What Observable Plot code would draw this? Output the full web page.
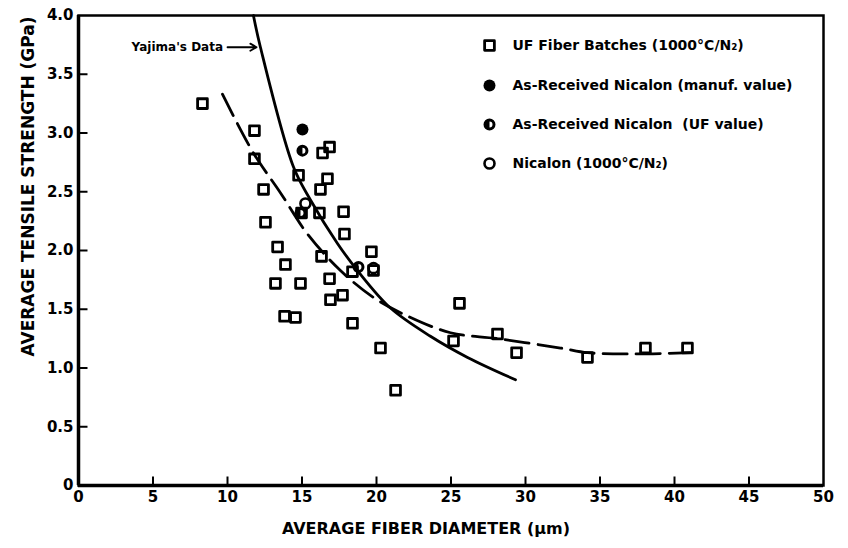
<!DOCTYPE html>
<html>
<head>
<meta charset="utf-8">
<script src="https://cdn.jsdelivr.net/npm/d3@7"></script>
<script src="https://cdn.jsdelivr.net/npm/@observablehq/plot@0.6"></script>
<style>
  html, body { margin: 0; padding: 0; background: #fff; }
  #chart { width: 848px; height: 548px; }
</style>
</head>
<body>
<div id="chart"></div>
<script>
// ---- Data ----
// UF Fiber Batches (1000°C/N2): diameter (µm) / strength (GPa)
const batchDiameter = [8.32, 11.81, 11.81, 12.42, 12.55, 14.77, 16.38, 16.85, 16.24, 16.71,
  14.97, 16.17, 17.79, 17.85, 13.36, 16.31, 13.89, 19.66, 18.39, 19.80,
  13.22, 14.90, 16.85, 16.91, 17.72, 13.83, 14.56, 18.39, 20.27, 21.28,
  25.57, 25.17, 28.12, 29.40, 34.16, 38.05, 40.87];
const batchStrength = [3.25, 3.02, 2.78, 2.52, 2.24, 2.64, 2.83, 2.88, 2.52, 2.61,
  2.32, 2.32, 2.33, 2.14, 2.03, 1.95, 1.88, 1.99, 1.82, 1.83,
  1.72, 1.72, 1.76, 1.58, 1.62, 1.44, 1.43, 1.38, 1.17, 0.81,
  1.55, 1.23, 1.29, 1.13, 1.09, 1.17, 1.17];

// As-Received Nicalon (manuf. value)
const manufDiameter = [15.03];
const manufStrength = [3.03];

// As-Received Nicalon (UF value)
const ufDiameter = [15.03, 14.90, 18.79];
const ufStrength = [2.85, 2.32, 1.86];

// Nicalon (1000°C/N2)
const nicDiameter = [15.23, 19.80];
const nicStrength = [2.40, 1.85];

// Yajima's data curve (solid)
const yajimaDiameter = [11.74, 12.21, 14.43, 15.57, 17.38, 18.72, 20.94, 23.62, 26.11, 29.33];
const yajimaStrength = [4.00, 3.73, 2.71, 2.43, 2.06, 1.83, 1.51, 1.27, 1.09, 0.90];

// Fit curve (dashed)
const fitDiameter = [9.66, 11.74, 13.56, 15.37, 17.58, 19.80, 21.95, 24.97, 28.12, 32.35, 34.16, 37.25, 41.07];
const fitStrength = [3.33, 2.83, 2.49, 2.14, 1.83, 1.60, 1.45, 1.30, 1.25, 1.17, 1.13, 1.12, 1.13];

// Axis ticks
const xTicks = [0, 5, 10, 15, 20, 25, 30, 35, 40, 45, 50];
const yTicks = [0, 0.5, 1.0, 1.5, 2.0, 2.5, 3.0, 3.5, 4.0];
const xInnerTicks = [5, 10, 15, 20, 25, 30, 35, 40, 45];
const yInnerTicks = [0.5, 1.0, 1.5, 2.0, 2.5, 3.0, 3.5];

// Titles, legend and annotation text
const xTitle = "AVERAGE FIBER DIAMETER (µm)";
const yTitle = "AVERAGE TENSILE STRENGTH (GPa)";
const legendLabels = [
  "UF Fiber Batches (1000°C/N₂)",
  "As-Received Nicalon (manuf. value)",
  "As-Received Nicalon  (UF value)",
  "Nicalon (1000°C/N₂)"
];
const annotationLabel = ["Yajima's Data"];
const annotationX = [9.7];
const annotationY = [3.73];
const annotationArrowX1 = [10.0];
const annotationArrowX2 = [11.95];

// ---- Build tables ----
const zip = (xs, ys) => xs.map((x, i) => ({x, y: ys[i]}));
const batches = zip(batchDiameter, batchStrength);
const manuf = zip(manufDiameter, manufStrength);
const ufVals = zip(ufDiameter, ufStrength);
const nicalon = zip(nicDiameter, nicStrength);
const yajima = zip(yajimaDiameter, yajimaStrength);
const fit = zip(fitDiameter, fitStrength);
const annotations = annotationLabel.map((t, i) => ({
  text: t, x: annotationX[i], y: annotationY[i], x1: annotationArrowX1[i], x2: annotationArrowX2[i]
}));

// ---- Custom symbols ----
const halfFilled = {
  draw(ctx, size) {
    const r = Math.sqrt(size / Math.PI);
    const ri = r * 0.5;
    ctx.moveTo(r, 0);
    ctx.arc(0, 0, r, 0, 2 * Math.PI);
    ctx.moveTo(ri, 0);
    ctx.arc(0, 0, ri, 0, -2 * Math.PI, true);
    ctx.moveTo(0, -ri);
    ctx.arc(0, 0, ri, -Math.PI / 2, Math.PI / 2, true);
    ctx.closePath();
  }
};
const tickUp = { draw(ctx) { ctx.moveTo(0, 0); ctx.lineTo(0, -9); } };
const tickRight = { draw(ctx) { ctx.moveTo(0, 0); ctx.lineTo(9, 0); } };

const FONT = "DejaVu Sans, Liberation Sans, Arial, sans-serif";
const marginLeft = 78, marginTop = 15;

const legendSymbols = [
  {symbol: "square", r: 5.5, fill: "none", stroke: "black", strokeWidth: 2.8},
  {symbol: "circle", r: 6, fill: "black", stroke: "none", strokeWidth: 0},
  {symbol: halfFilled, r: 6, fill: "black", stroke: "none", strokeWidth: 0},
  {symbol: "circle", r: 5, fill: "none", stroke: "black", strokeWidth: 2.6}
];
const legendRowY = [45, 85, 124, 163];
const legendMarks = legendLabels.flatMap((label, i) => {
  const s = legendSymbols[i];
  return [
    Plot.dot([label], {frameAnchor: "top-left", dx: 489 - marginLeft, dy: legendRowY[i] - marginTop,
      symbol: s.symbol, r: s.r, fill: s.fill, stroke: s.stroke, strokeWidth: s.strokeWidth, strokeLinejoin: "round"}),
    Plot.text([label], {frameAnchor: "top-left", dx: 512 - marginLeft, dy: legendRowY[i] - marginTop,
      text: d => d, textAnchor: "start", lineAnchor: "middle", fontSize: 14, fontWeight: "bold", fontFamily: FONT})
  ];
});

const chart = Plot.plot({
  width: 848,
  height: 548,
  marginLeft: 78,
  marginRight: 25,
  marginTop: 15,
  marginBottom: 63,
  style: {fontFamily: FONT, fontWeight: "bold", fontSize: "15px", color: "black", background: "white"},
  x: {domain: [0, 50]},
  y: {domain: [0, 4]},
  marks: [
    Plot.axisX({ticks: xTicks, tickSize: 0, tickPadding: 6, tickFormat: d => String(d), label: null, fontSize: 15}),
    Plot.axisY({ticks: yTicks, tickSize: 0, tickPadding: 5, tickFormat: d => d === 0 ? "0" : d.toFixed(1), label: null, fontSize: 15}),
    Plot.dot(xInnerTicks, {x: d => d, y: () => 0, symbol: tickUp, stroke: "black", strokeWidth: 2, fill: "none"}),
    Plot.dot(yInnerTicks, {x: () => 0, y: d => d, symbol: tickRight, stroke: "black", strokeWidth: 2, fill: "none"}),
    Plot.frame({stroke: "black", strokeWidth: 2.5}),
    Plot.ruleX([0], {stroke: "black", strokeWidth: 3.5}),
    Plot.ruleY([0], {stroke: "black", strokeWidth: 3.5}),
    Plot.text([xTitle], {frameAnchor: "bottom", dx: -25, dy: 48, text: d => d, fontSize: 16, fontWeight: "bold", fontFamily: FONT}),
    Plot.text([yTitle], {frameAnchor: "left", dx: -50, dy: -64, rotate: -90, textAnchor: "middle", lineAnchor: "middle", text: d => d, fontSize: 17, fontWeight: "bold", fontFamily: FONT}),
    Plot.line(yajima, {x: "x", y: "y", curve: "catmull-rom", stroke: "black", strokeWidth: 2.8}),
    Plot.line(fit, {x: "x", y: "y", curve: "catmull-rom", stroke: "black", strokeWidth: 2.8, strokeDasharray: "24,9"}),
    Plot.dot(batches, {x: "x", y: "y", symbol: "square", r: 5.5, fill: "none", stroke: "black", strokeWidth: 2.8, strokeLinejoin: "round"}),
    Plot.dot(manuf, {x: "x", y: "y", symbol: "circle", r: 6, fill: "black", stroke: "none"}),
    Plot.dot(ufVals, {x: "x", y: "y", symbol: halfFilled, r: 6, fill: "black", stroke: "none"}),
    Plot.dot(nicalon, {x: "x", y: "y", symbol: "circle", r: 5, fill: "none", stroke: "black", strokeWidth: 2.6}),
    Plot.text(annotations, {x: "x", y: "y", text: "text", textAnchor: "end", fontSize: 12, fontWeight: "bold", fontFamily: FONT}),
    Plot.arrow(annotations, {x1: "x1", y1: "y", x2: "x2", y2: "y", stroke: "black", strokeWidth: 1.8, headLength: 6}),
    ...legendMarks
  ]
});
document.getElementById("chart").appendChild(chart);
</script>
</body>
</html>
